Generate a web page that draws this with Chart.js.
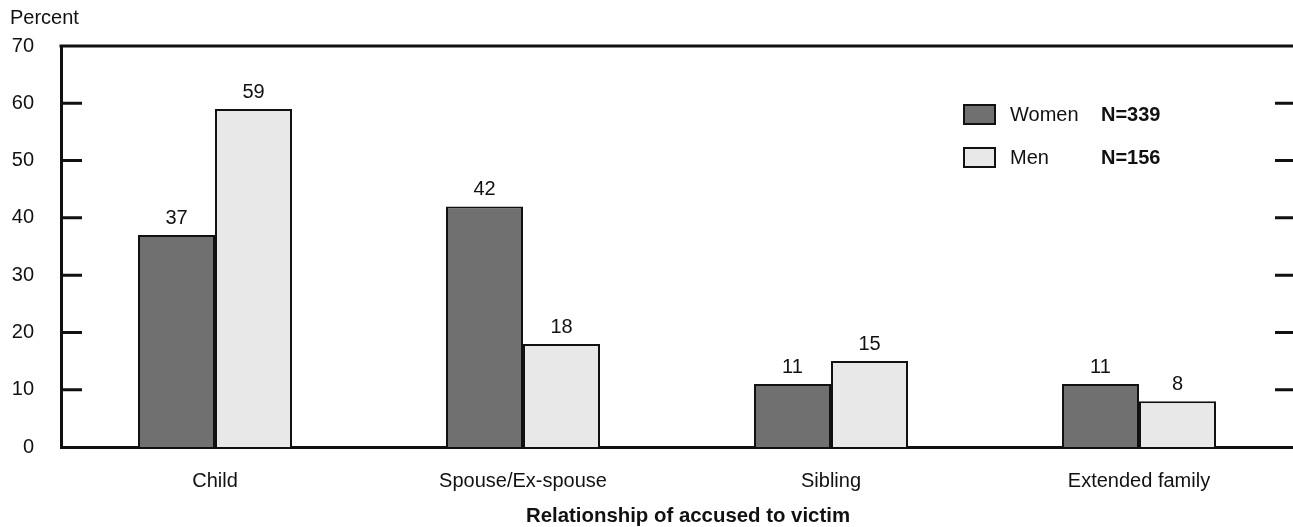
<!DOCTYPE html>
<html lang="en">
<head>
  <meta charset="UTF-8" />
  <title>Relationship of accused to victim</title>
  <script src="https://cdn.jsdelivr.net/npm/chart.js"></script>
  <style>
    html, body { margin: 0; padding: 0; background: #fff; }
    .wrap { width: 1293px; height: 527px; position: relative; }
  </style>
</head>
<body>
  <div class="wrap">
    <canvas id="myChart"></canvas>
  </div>

  <script>
    // data
    const categories = ['Child', 'Spouse/Ex-spouse', 'Sibling', 'Extended family'];
    const womenValues = [37, 42, 11, 11];
    const menValues = [59, 18, 15, 8];
    const seriesNames = ['Women', 'Men'];
    const seriesN = ['N=339', 'N=156'];
    const yTicks = [0, 10, 20, 30, 40, 50, 60, 70];
    const xTitle = 'Relationship of accused to victim';

    const FONT = '"Liberation Sans", Arial, Helvetica, sans-serif';
    const INK = '#111';

    // top frame line, inner tick marks on both sides, "Percent" label, x title
    const framePlugin = {
      id: 'frame',
      afterDraw(chart) {
        const { ctx, chartArea: a, scales } = chart;
        ctx.save();
        ctx.strokeStyle = INK;
        ctx.lineWidth = 3;
        ctx.beginPath();
        ctx.moveTo(a.left - 1.5, a.top);
        ctx.lineTo(a.right, a.top);
        yTicks.forEach(v => {
          if (v === yTicks[0] || v === yTicks[yTicks.length - 1]) return;
          const y = scales.y.getPixelForValue(v);
          ctx.moveTo(a.left, y);
          ctx.lineTo(a.left + 21, y);
          ctx.moveTo(a.right - 18, y);
          ctx.lineTo(a.right, y);
        });
        ctx.stroke();

        ctx.fillStyle = INK;
        ctx.font = '20px ' + FONT;
        ctx.textAlign = 'left';
        ctx.textBaseline = 'alphabetic';
        ctx.fillText('Percent', 10, 24);

        // axis title sits a little right of the plot centre in the original
        ctx.font = 'bold 20.4px ' + FONT;
        ctx.textAlign = 'center';
        ctx.fillText(xTitle, (a.left + a.right) / 2 + 11, 522);
        ctx.restore();
      }
    };

    // value labels above each bar
    const valueLabels = {
      id: 'valueLabels',
      afterDatasetsDraw(chart) {
        const { ctx } = chart;
        ctx.save();
        ctx.fillStyle = INK;
        ctx.font = '20px ' + FONT;
        ctx.textAlign = 'center';
        ctx.textBaseline = 'alphabetic';
        chart.data.datasets.forEach((ds, i) => {
          chart.getDatasetMeta(i).data.forEach((bar, j) => {
            ctx.fillText(ds.data[j], bar.x, bar.y - 11);
          });
        });
        ctx.restore();
      }
    };

    // legend inside the plot, upper right
    const insideLegend = {
      id: 'insideLegend',
      afterDraw(chart) {
        const { ctx } = chart;
        const boxX = 963, boxW = 33, boxH = 21;
        const rows = [104, 147];
        ctx.save();
        chart.data.datasets.forEach((ds, i) => {
          const top = rows[i];
          ctx.fillStyle = ds.backgroundColor;
          ctx.fillRect(boxX, top, boxW, boxH);
          ctx.strokeStyle = INK;
          ctx.lineWidth = 2;
          ctx.strokeRect(boxX + 1, top + 1, boxW - 2, boxH - 2);

          ctx.fillStyle = INK;
          ctx.textAlign = 'left';
          ctx.textBaseline = 'middle';
          ctx.font = '20px ' + FONT;
          ctx.fillText(ds.label, 1010, top + boxH / 2 + 1);
          ctx.font = 'bold 20px ' + FONT;
          ctx.fillText(seriesN[i], 1101, top + boxH / 2 + 1);
        });
        ctx.restore();
      }
    };

    const ctx = document.getElementById('myChart').getContext('2d');
    const chart = new Chart(ctx, {
      type: 'bar',
      data: {
        labels: categories,
        datasets: [
          {
            label: seriesNames[0],
            data: womenValues,
            backgroundColor: '#707070',
            borderColor: INK,
            borderWidth: 2
          },
          {
            label: seriesNames[1],
            data: menValues,
            backgroundColor: '#e8e8e8',
            borderColor: INK,
            borderWidth: 2
          }
        ]
      },
      options: {
        responsive: true,
        maintainAspectRatio: false,
        animation: false,
        layout: { padding: { top: 46, right: 0, left: 0, bottom: 0 } },
        datasets: { bar: { categoryPercentage: 0.5, barPercentage: 1 } },
        plugins: {
          legend: { display: false },
          tooltip: { enabled: false }
        },
        scales: {
          x: {
            grid: { display: false, drawTicks: false },
            border: { display: true, color: INK, width: 3 },
            ticks: { color: INK, font: { family: FONT, size: 20 }, padding: 22 },
            afterFit(scale) { scale.height = 80; }
          },
          y: {
            min: yTicks[0],
            max: yTicks[yTicks.length - 1],
            grid: { display: false, drawTicks: false },
            border: { display: true, color: INK, width: 3 },
            ticks: {
              stepSize: 10,
              color: INK,
              font: { family: FONT, size: 20 },
              padding: 27
            },
            afterFit(scale) { scale.width = 61; }
          }
        }
      },
      plugins: [framePlugin, valueLabels, insideLegend]
    });
  </script>
</body>
</html>
